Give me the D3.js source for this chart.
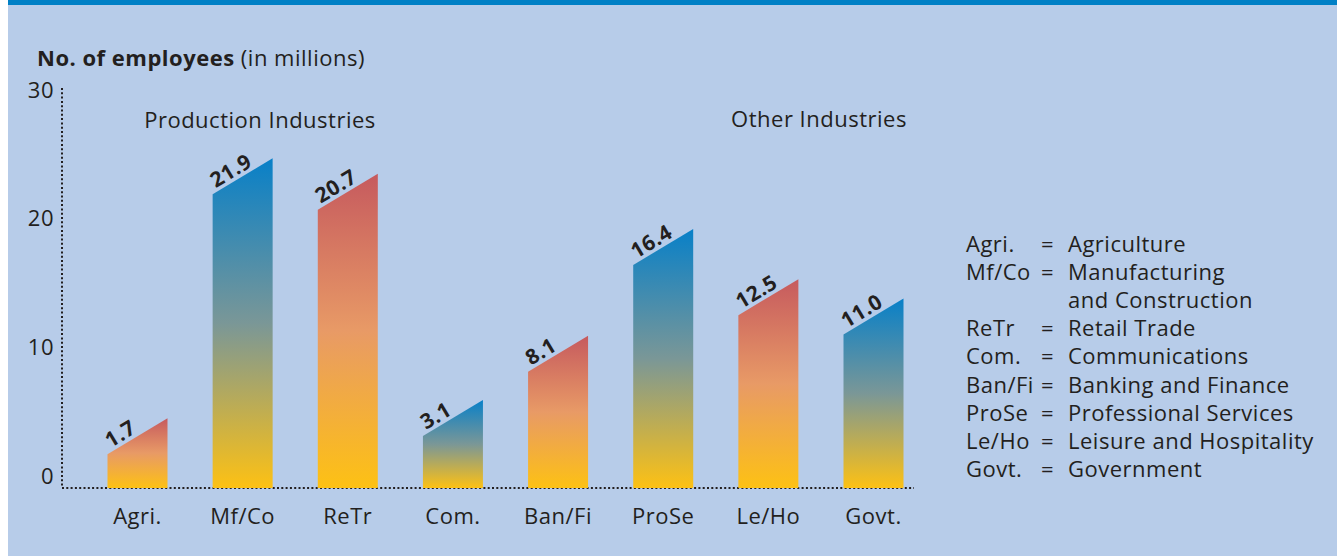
<!DOCTYPE html>
<html>
<head>
<meta charset="utf-8">
<script src="https://cdn.jsdelivr.net/npm/d3@7"></script>
<style>
  body { margin: 0; background: #fff; }
  svg text { font-family: "Open Sans", "Noto Sans", sans-serif; fill: #231f20; letter-spacing: 0.5px; }
</style>
</head>
<body>
<div id="chart"></div>
<script>
var width = 1337, height = 556;

var categories = ["Agri.", "Mf/Co", "ReTr", "Com.", "Ban/Fi", "ProSe", "Le/Ho", "Govt."];
var values = [1.7, 21.9, 20.7, 3.1, 8.1, 16.4, 12.5, 11.0];
var colorKeys = ["red", "blue", "red", "blue", "red", "blue", "red", "blue"];
var yTicks = [0, 10, 20, 30];
var groupLabels = [
  { text: "Production Industries", x: 260, y: 128 },
  { text: "Other Industries", x: 819, y: 127 }
];
var legendAbbr = ["Agri.", "Mf/Co", "", "ReTr", "Com.", "Ban/Fi", "ProSe", "Le/Ho", "Govt."];
var legendFull = ["Agriculture", "Manufacturing", "and Construction", "Retail Trade",
  "Communications", "Banking and Finance", "Professional Services",
  "Leisure and Hospitality", "Government"];

var fs = 22;

var svg = d3.select("#chart").append("svg")
  .attr("width", width)
  .attr("height", height);

// background panel + top band
svg.append("rect")
  .attr("x", 8).attr("y", 0)
  .attr("width", width - 8).attr("height", height)
  .attr("fill", "#b7cce9");
svg.append("rect")
  .attr("x", 8).attr("y", 0)
  .attr("width", width - 8).attr("height", 5)
  .attr("fill", "#0080c6");

var defs = svg.append("defs");
var grads = {
  blue: ["#0880c8", "#7a9797", "#fdc114"],
  red: ["#c65a5e", "#e89a66", "#fdc114"]
};
Object.keys(grads).forEach(function(k) {
  var g = defs.append("linearGradient")
    .attr("id", "grad-" + k)
    .attr("x1", 0).attr("y1", 0).attr("x2", 0).attr("y2", 1);
  g.selectAll("stop")
    .data(grads[k])
    .enter().append("stop")
    .attr("offset", function(d, i) { return (i / 2 * 100) + "%"; })
    .attr("stop-color", function(d) { return d; });
});

var x = d3.scalePoint()
  .domain(categories)
  .range([137.5, 873.5]);

var y = d3.scaleLinear()
  .domain([0, 30])
  .range([476, 90]);

var baseY = 488, axisX = 62;
var barW = 60, slant = 36;

// axes (dotted)
svg.append("line")
  .attr("x1", axisX).attr("x2", axisX)
  .attr("y1", 88).attr("y2", baseY)
  .attr("stroke", "#231f20")
  .attr("stroke-width", 2)
  .attr("stroke-dasharray", "2,2.3");
svg.append("line")
  .attr("x1", axisX).attr("x2", 914)
  .attr("y1", baseY).attr("y2", baseY)
  .attr("stroke", "#231f20")
  .attr("stroke-width", 2)
  .attr("stroke-dasharray", "2,2.3");

svg.selectAll("text.ytick")
  .data(yTicks)
  .enter().append("text")
  .attr("class", "ytick")
  .attr("x", 54)
  .attr("y", function(d) { return y(d); })
  .attr("dy", "0.35em")
  .attr("text-anchor", "end")
  .attr("font-size", fs)
  .text(function(d) { return d; });

// title
var title = svg.append("text")
  .attr("x", 37).attr("y", 66)
  .attr("font-size", fs);
title.append("tspan").attr("font-weight", "bold").text("No. of employees");
title.append("tspan").text(" (in millions)");

// bars with slanted tops
var bars = svg.selectAll("g.bar")
  .data(categories)
  .enter().append("g")
  .attr("class", "bar");

bars.append("path")
  .attr("fill", function(d, i) { return "url(#grad-" + colorKeys[i] + ")"; })
  .attr("d", function(d, i) {
    var x0 = x(d) - barW / 2, x1 = x(d) + barW / 2, yt = y(values[i]);
    return "M" + x0 + "," + baseY + "L" + x0 + "," + yt +
      "L" + x1 + "," + (yt - slant) + "L" + x1 + "," + baseY + "Z";
  });

bars.append("text")
  .attr("transform", function(d, i) {
    var x0 = x(d) - barW / 2 + 3, yt = y(values[i]) - 6;
    return "translate(" + x0 + "," + yt + ") rotate(-31)";
  })
  .attr("font-size", 21)
  .attr("font-weight", "bold")
  .text(function(d, i) { return values[i].toFixed(1); });

svg.selectAll("text.xlabel")
  .data(categories)
  .enter().append("text")
  .attr("class", "xlabel")
  .attr("x", function(d) { return x(d); })
  .attr("y", 524)
  .attr("text-anchor", "middle")
  .attr("font-size", fs)
  .text(function(d) { return d; });

svg.selectAll("text.group")
  .data(groupLabels)
  .enter().append("text")
  .attr("class", "group")
  .attr("x", function(d) { return d.x; })
  .attr("y", function(d) { return d.y; })
  .attr("text-anchor", "middle")
  .attr("font-size", fs)
  .text(function(d) { return d.text; });

// legend
var legend = svg.append("g").attr("transform", "translate(966,252)");
legendFull.forEach(function(full, i) {
  var row = legend.append("g").attr("transform", "translate(0," + (i * 28.1) + ")");
  if (legendAbbr[i]) {
    row.append("text").attr("x", 0).attr("font-size", fs).text(legendAbbr[i]);
    row.append("text").attr("x", 75).attr("font-size", fs).text("=");
  }
  row.append("text").attr("x", 102).attr("font-size", fs).text(full);
});
</script>
</body>
</html>
